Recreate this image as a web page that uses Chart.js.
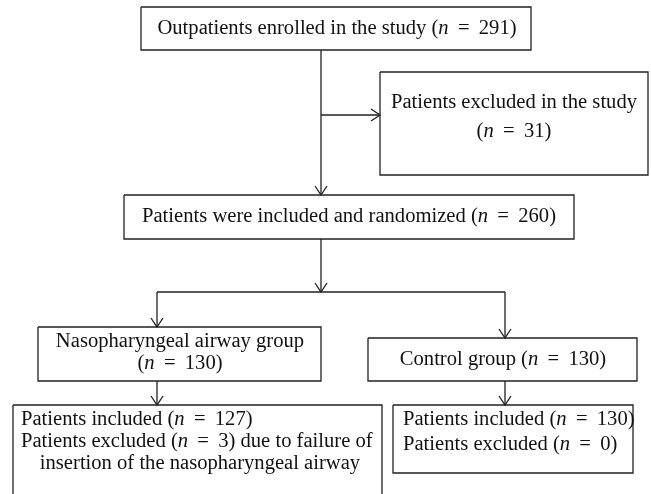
<!DOCTYPE html>
<html>
<head>
<meta charset="utf-8">
<script src="https://cdn.jsdelivr.net/npm/chart.js@4.4.1/dist/chart.umd.min.js"></script>
<style>
  html, body { margin: 0; padding: 0; background: #fff; }
  #wrap { width: 651px; height: 494px; }
</style>
</head>
<body>
<div id="wrap"><canvas id="flow"></canvas></div>
<script>
// flow data
var stageLabels = ['Outpatients enrolled in the study', 'Patients excluded in the study', 'Patients were included and randomized'];
var stageCounts = [291, 31, 260];
var groupLabels = ['Nasopharyngeal airway group', 'Control group'];
var groupCounts = [130, 130];
var includedCounts = [127, 130];
var excludedCounts = [3, 0];
var exclusionReason = ['due to failure of', 'insertion of the nasopharyngeal airway'];

// layout (canvas units): [x1, y1, x2, y2]
var boxes = {
    enrolled: [141, 7, 531, 50],
    excluded: [380, 72, 648, 175],
    randomized: [124, 195, 574, 239],
    npa: [38, 327, 321, 381],
    control: [368, 338, 637, 381],
    npaOut: [13, 405, 382, 520],
    controlOut: [393, 405, 633, 473]
};
// connectors: points, arrow at the last point
var connectors = [
    { pts: [[321, 50], [321, 195]], arrow: 'down' },
    { pts: [[321, 115], [380, 115]], arrow: 'right' },
    { pts: [[321, 239], [321, 292]], arrow: 'down' },
    { pts: [[157, 292], [505, 292]], arrow: null },
    { pts: [[157, 292], [157, 327]], arrow: 'down' },
    { pts: [[505, 292], [505, 338]], arrow: 'down' },
    { pts: [[157, 381], [157, 405]], arrow: 'down' },
    { pts: [[505, 381], [505, 405]], arrow: 'down' }
];

var LINE = '#222';
var FONT = '"Liberation Serif", "Times New Roman", serif';
var FS = 20;
var SX = 1.03;   // source font runs a little wider than Times
var EQ_GAP = 9;  // space around "="

function seg(prefix, n, suffix) {
    return [{ t: prefix + '(' }, { t: 'n', i: true }, { gap: EQ_GAP }, { t: '=' }, { gap: EQ_GAP },
            { t: n + ')' + (suffix || '') }];
}

// text lines: segments, anchor x, y, align
var texts = [
    { s: [{ t: stageLabels[0] + ' ' }].concat(seg('', stageCounts[0])), x: 337, y: 29, a: 'center' },
    { s: [{ t: stageLabels[1] }], x: 514, y: 103, a: 'center' },
    { s: seg('', stageCounts[1]), x: 514, y: 132, a: 'center' },
    { s: [{ t: stageLabels[2] + ' ' }].concat(seg('', stageCounts[2])), x: 349, y: 217, a: 'center' },
    { s: [{ t: groupLabels[0] }], x: 180, y: 342, a: 'center' },
    { s: seg('', groupCounts[0]), x: 180, y: 364, a: 'center' },
    { s: [{ t: groupLabels[1] + ' ' }].concat(seg('', groupCounts[1])), x: 503, y: 360, a: 'center' },
    { s: seg('Patients included ', includedCounts[0]), x: 21, y: 420, a: 'left' },
    { s: seg('Patients excluded ', excludedCounts[0], ' ' + exclusionReason[0]), x: 21, y: 442, a: 'left' },
    { s: [{ t: exclusionReason[1] }], x: 200, y: 464, a: 'center' },
    { s: seg('Patients included ', includedCounts[1]), x: 403, y: 420, a: 'left' },
    { s: seg('Patients excluded ', excludedCounts[1]), x: 403, y: 445, a: 'left' }
];

function lineSet(points) {
    return {
        type: 'scatter',
        data: points.map(function (p) { return { x: p[0], y: p[1] }; }),
        showLine: true,
        borderColor: LINE,
        borderWidth: 1.3,
        pointRadius: 0,
        pointHoverRadius: 0,
        fill: false,
        tension: 0
    };
}

var datasets = [];
Object.keys(boxes).forEach(function (k) {
    var b = boxes[k];
    datasets.push(lineSet([[b[0], b[1]], [b[2], b[1]], [b[2], b[3]], [b[0], b[3]], [b[0], b[1]]]));
});
connectors.forEach(function (c) {
    datasets.push(lineSet(c.pts));
    var tip = c.pts[c.pts.length - 1];
    if (c.arrow === 'down') {
        datasets.push(lineSet([[tip[0] - 6, tip[1] - 9], tip, [tip[0] + 6, tip[1] - 9]]));
    } else if (c.arrow === 'right') {
        datasets.push(lineSet([[tip[0] - 9, tip[1] - 6], tip, [tip[0] - 9, tip[1] + 6]]));
    }
});

function partWidth(ctx, p) {
    if (p.gap) return p.gap;
    ctx.font = (p.i ? 'italic ' : '') + FS + 'px ' + FONT;
    return ctx.measureText(p.t).width;
}

var textPlugin = {
    id: 'flowText',
    afterDatasetsDraw: function (chart) {
        var ctx = chart.ctx, xs = chart.scales.x, ys = chart.scales.y;
        ctx.save();
        ctx.fillStyle = '#111';
        ctx.textBaseline = 'middle';
        texts.forEach(function (ln) {
            var w = 0;
            ln.s.forEach(function (p) { w += partWidth(ctx, p); });
            var x = xs.getPixelForValue(ln.x);
            if (ln.a === 'center') x -= w * SX / 2;
            var y = ys.getPixelForValue(ln.y);
            ctx.save();
            ctx.translate(x, y);
            ctx.scale(SX, 1);
            var cx = 0;
            ln.s.forEach(function (p) {
                var pw = partWidth(ctx, p);
                if (!p.gap) ctx.fillText(p.t, cx, 0);
                cx += pw;
            });
            ctx.restore();
        });
        ctx.restore();
    }
};

new Chart(document.getElementById('flow'), {
    type: 'scatter',
    data: { datasets: datasets },
    options: {
        responsive: true,
        maintainAspectRatio: false,
        animation: false,
        events: [],
        layout: { padding: 0 },
        plugins: { legend: { display: false }, tooltip: { enabled: false } },
        scales: {
            x: { type: 'linear', min: 0, max: 651, display: false },
            y: { type: 'linear', min: 0, max: 494, reverse: true, display: false }
        }
    },
    plugins: [textPlugin]
});
</script>
</body>
</html>
